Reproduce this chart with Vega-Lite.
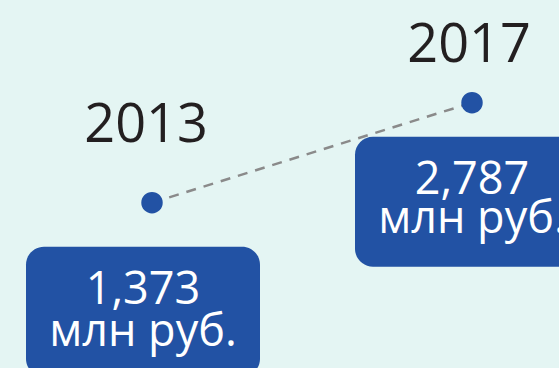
{
  "$schema": "https://vega.github.io/schema/vega-lite/v6.json",
  "width": 559,
  "height": 368,
  "padding": 0,
  "autosize": {"type": "none"},
  "background": "#e4f5f3",
  "config": {"view": {"stroke": null}, "font": "Open Sans"},
  "data": {
    "values": [
      {"year": 2013, "value": 1373, "label": "1,373", "unit": "млн руб."},
      {"year": 2017, "value": 2787, "label": "2,787", "unit": "млн руб."}
    ]
  },
  "encoding": {
    "x": {"field": "year", "type": "quantitative", "scale": {"domain": [2011.1, 2018.0875], "nice": false, "zero": false}, "axis": null},
    "y": {"field": "value", "type": "quantitative", "scale": {"domain": [-964.5, 4239], "nice": false, "zero": false}, "axis": null}
  },
  "layer": [
    {
      "mark": {"type": "line", "color": "#8a8a8a", "strokeWidth": 2.5, "strokeDash": [10, 8]}
    },
    {
      "transform": [{"filter": "datum.year == 2013"}],
      "mark": {"type": "rect", "color": "#2252a4", "cornerRadius": 18, "xOffset": -126, "x2Offset": 108, "yOffset": 44, "y2Offset": 174},
      "encoding": {"x2": {"field": "year"}, "y2": {"field": "value"}}
    },
    {
      "transform": [{"filter": "datum.year == 2017"}],
      "mark": {"type": "rect", "color": "#2252a4", "cornerRadius": 18, "xOffset": -117, "x2Offset": 117, "yOffset": 34, "y2Offset": 164},
      "encoding": {"x2": {"field": "year"}, "y2": {"field": "value"}}
    },
    {
      "mark": {"type": "circle", "color": "#2252a4", "opacity": 1, "size": 460}
    },
    {
      "transform": [{"filter": "datum.year == 2013"}],
      "mark": {"type": "text", "color": "#231f20", "fontSize": 54, "align": "center", "baseline": "alphabetic", "dx": -6, "dy": -61},
      "encoding": {"text": {"field": "year"}}
    },
    {
      "transform": [{"filter": "datum.year == 2017"}],
      "mark": {"type": "text", "color": "#231f20", "fontSize": 54, "align": "center", "baseline": "alphabetic", "dx": -3, "dy": -41},
      "encoding": {"text": {"field": "year"}}
    },
    {
      "transform": [{"filter": "datum.year == 2013"}],
      "mark": {"type": "text", "color": "#ffffff", "fontSize": 45, "align": "center", "baseline": "alphabetic", "dx": -9, "dy": 101},
      "encoding": {"text": {"field": "label"}}
    },
    {
      "transform": [{"filter": "datum.year == 2013"}],
      "mark": {"type": "text", "color": "#ffffff", "fontSize": 45, "align": "center", "baseline": "alphabetic", "dx": -9, "dy": 143},
      "encoding": {"text": {"field": "unit"}}
    },
    {
      "transform": [{"filter": "datum.year == 2017"}],
      "mark": {"type": "text", "color": "#ffffff", "fontSize": 45, "align": "center", "baseline": "alphabetic", "dx": 0, "dy": 91},
      "encoding": {"text": {"field": "label"}}
    },
    {
      "transform": [{"filter": "datum.year == 2017"}],
      "mark": {"type": "text", "color": "#ffffff", "fontSize": 45, "align": "center", "baseline": "alphabetic", "dx": 0, "dy": 130},
      "encoding": {"text": {"field": "unit"}}
    }
  ]
}
